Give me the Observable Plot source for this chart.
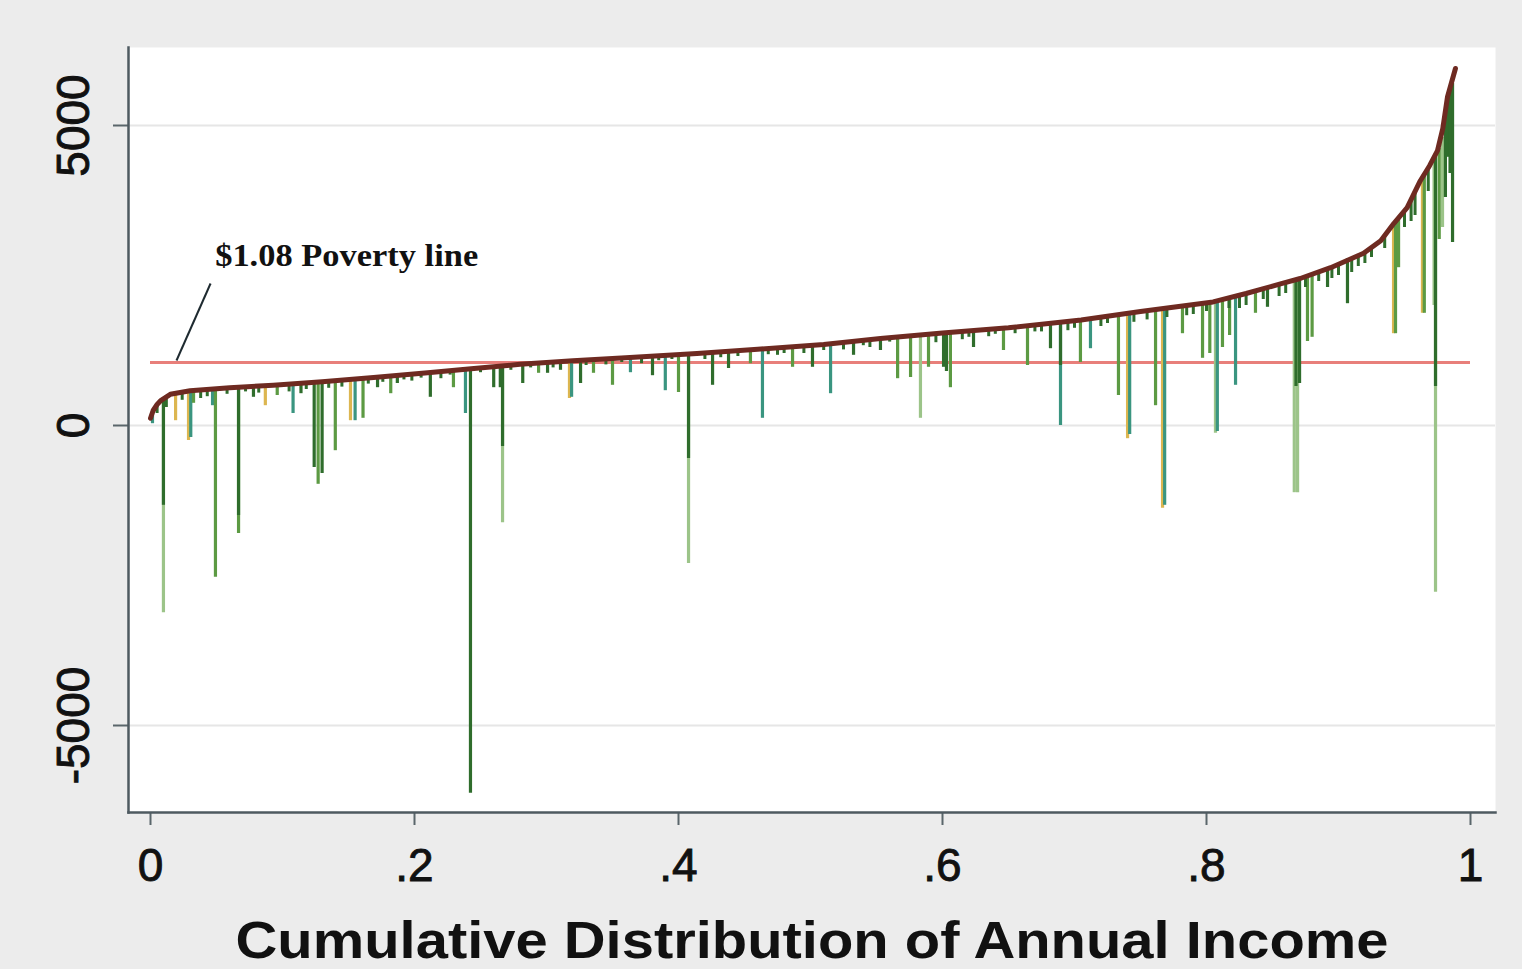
<!DOCTYPE html>
<html>
<head>
<meta charset="utf-8">
<script src="https://cdn.jsdelivr.net/npm/d3@7"></script>
<script src="https://cdn.jsdelivr.net/npm/@observablehq/plot@0.6"></script>
<style>
  html, body { margin: 0; padding: 0; background: #ececec; }
  #chart { width: 1522px; height: 969px; }
</style>
</head>
<body>
<div id="chart"></div>
<script>
// ---- Data ----
const xTicks = [0, 0.2, 0.4, 0.6, 0.8, 1];
const yTicks = [-5000, 0, 5000];
const xTitle = "Cumulative Distribution of Annual Income";
const povertyLine = 1050;           // value of the $1.08 poverty line
const povertySpan = [0, 1];         // cumulative share range covered by the line
const annotation = [{p: 0.049, v: 2830, text: "$1.08 Poverty line"}];
const pointer = [{p1: 0.0197, v1: 1083, p2: 0.0455, v2: 2367}];

// income curve: [cumulative share, annual income]
const incomeCurve = [
  [0, 120], [0.002, 250], [0.005, 350], [0.008, 420], [0.015, 520], [0.03, 580], [0.06, 630],
  [0.093, 670], [0.13, 730], [0.169, 800], [0.21, 880], [0.245, 950], [0.28, 1020],
  [0.32, 1080], [0.36, 1130], [0.414, 1200], [0.46, 1270], [0.51, 1350], [0.553, 1450],
  [0.6, 1540], [0.65, 1630], [0.705, 1760], [0.75, 1900], [0.805, 2060], [0.83, 2200],
  [0.856, 2360], [0.871, 2450], [0.894, 2630], [0.919, 2870], [0.932, 3080], [0.942, 3370],
  [0.952, 3630], [0.962, 4080], [0.969, 4330], [0.975, 4580], [0.979, 4950], [0.9826, 5480], [0.9886, 5950]
];

// spikes: [cumulative share, top value, bottom value, tone]
const spikes = [
  [0.0098, 440, -3120, "light"], [0.2667, 1000, -1620, "light"], [0.4076, 1195, -2300, "light"],
  [0.5833, 1500, 120, "light"], [0.8068, 2060, -130, "light"], [0.8665, 2420, -1120, "light"],
  [0.869, 2440, -1120, "light"], [0.9735, 4500, -2780, "light"], [0.9788, 4800, 3300, "light"],
  [0.9724, 4450, 2000, "light"],

  [0.019, 530, 80, "gold"], [0.0288, 575, -250, "gold"], [0.087, 660, 330, "gold"],
  [0.1515, 765, 80, "gold"], [0.3174, 1075, 450, "gold"], [0.7402, 1860, -220, "gold"],
  [0.7667, 1910, -1380, "gold"], [0.9417, 3370, 1530, "gold"], [0.9636, 4150, 1870, "gold"],

  [0.0015, 230, 30, "teal"], [0.0305, 580, -200, "teal"], [0.047, 610, 330, "teal"],
  [0.108, 690, 200, "teal"], [0.155, 770, 80, "teal"], [0.2386, 935, 200, "teal"],
  [0.319, 1078, 470, "teal"], [0.3636, 1135, 880, "teal"], [0.39, 1175, 580, "teal"],
  [0.4636, 1270, 120, "teal"], [0.5152, 1360, 530, "teal"], [0.6894, 1710, 0, "teal"],
  [0.7121, 1770, 1280, "teal"], [0.7418, 1862, -150, "teal"], [0.7683, 1912, -1330, "teal"],
  [0.822, 2130, 670, "teal"], [0.8082, 2065, -100, "teal"],

  [0.0492, 615, -2530, "mid"], [0.0667, 640, -1800, "mid"], [0.0326, 585, 370, "mid"],
  [0.096, 675, 500, "mid"], [0.127, 720, -980, "mid"], [0.14, 745, -420, "mid"],
  [0.161, 780, 120, "mid"], [0.182, 820, 530, "mid"], [0.2295, 920, 630, "mid"],
  [0.294, 1040, 870, "mid"], [0.3356, 1100, 870, "mid"], [0.35, 1120, 670, "mid"],
  [0.4, 1185, 550, "mid"], [0.4545, 1260, 1030, "mid"], [0.4864, 1310, 970, "mid"],
  [0.566, 1470, 780, "mid"], [0.5758, 1490, 800, "mid"], [0.5894, 1515, 970, "mid"],
  [0.606, 1550, 630, "mid"], [0.6462, 1620, 1250, "mid"], [0.6644, 1650, 1000, "mid"],
  [0.7045, 1760, 1050, "mid"], [0.7333, 1840, 500, "mid"], [0.7614, 1900, 330, "mid"],
  [0.7818, 1950, 1530, "mid"], [0.797, 2020, 1120, "mid"], [0.8121, 2080, 1300, "mid"],
  [0.8371, 2220, 1870, "mid"], [0.88, 2520, 1470, "mid"], [0.9432, 3400, 1530, "mid"],
  [0.9455, 3450, 2630, "mid"], [0.965, 4200, 1870, "mid"], [0.8765, 2490, 1400, "mid"],
  [0.8025, 2040, 1200, "mid"], [0.8175, 2100, 1500, "mid"], [0.9763, 4620, 3100, "mid"],

  [0.0098, 440, -1330, "dark"], [0.0667, 640, -1500, "dark"], [0.078, 650, 470, "dark"],
  [0.114, 700, 530, "dark"], [0.124, 715, -700, "dark"], [0.13, 725, -800, "dark"],
  [0.172, 800, 630, "dark"], [0.187, 830, 700, "dark"], [0.212, 880, 470, "dark"],
  [0.2424, 945, -6130, "dark"], [0.26, 990, 630, "dark"], [0.265, 1000, 630, "dark"],
  [0.2667, 1000, -350, "dark"], [0.282, 1020, 700, "dark"], [0.3008, 1050, 870, "dark"],
  [0.3106, 1065, 920, "dark"], [0.3258, 1090, 700, "dark"], [0.3803, 1160, 830, "dark"],
  [0.4076, 1195, -550, "dark"], [0.4258, 1215, 670, "dark"], [0.4379, 1235, 950, "dark"],
  [0.5015, 1335, 970, "dark"], [0.5326, 1400, 1170, "dark"], [0.553, 1450, 1250, "dark"],
  [0.6008, 1540, 970, "dark"], [0.603, 1545, 900, "dark"], [0.6235, 1580, 1300, "dark"],
  [0.6818, 1690, 1280, "dark"], [0.6894, 1710, 1000, "dark"], [0.8462, 2290, 1970, "dark"],
  [0.8678, 2430, 650, "dark"], [0.8705, 2450, 700, "dark"], [0.8917, 2600, 2300, "dark"],
  [0.9068, 2780, 2030, "dark"], [0.9735, 4500, 650, "dark"], [0.9826, 5480, 4470, "dark"],
  [0.9864, 5700, 3050, "dark"], [0.981, 5200, 3800, "dark"], [0.9845, 5600, 4200, "dark"]
];

// short spikes hugging the curve: [cumulative share, top value, bottom value]
const hairs = [
  [0.005, 350, 200], [0.012, 480, 300], [0.024, 560, 420], [0.038, 595, 450], [0.043, 605, 480],
  [0.058, 628, 520], [0.072, 650, 560], [0.082, 655, 540], [0.105, 685, 560], [0.118, 705, 600],
  [0.135, 740, 620], [0.145, 755, 640], [0.165, 790, 690], [0.176, 805, 720], [0.192, 845, 760],
  [0.198, 860, 740], [0.205, 870, 790], [0.22, 900, 780], [0.227, 915, 840], [0.25, 960, 880],
  [0.273, 1010, 920], [0.288, 1030, 960], [0.305, 1060, 960], [0.33, 1095, 1000], [0.345, 1115, 1010],
  [0.357, 1125, 1050], [0.372, 1150, 1030], [0.385, 1165, 1080], [0.395, 1180, 1100], [0.42, 1205, 1100],
  [0.432, 1225, 1130], [0.445, 1245, 1150], [0.468, 1285, 1180], [0.475, 1295, 1170], [0.48, 1300, 1200],
  [0.495, 1325, 1200], [0.51, 1350, 1250], [0.525, 1385, 1260], [0.54, 1420, 1330], [0.545, 1430, 1300],
  [0.56, 1460, 1390], [0.595, 1530, 1380], [0.615, 1570, 1430], [0.62, 1575, 1470], [0.635, 1600, 1480],
  [0.64, 1610, 1520], [0.655, 1630, 1530], [0.67, 1660, 1560], [0.675, 1680, 1560], [0.695, 1730, 1580],
  [0.70, 1745, 1620], [0.72, 1790, 1650], [0.725, 1810, 1700], [0.745, 1880, 1720], [0.755, 1900, 1760],
  [0.77, 1925, 1800], [0.785, 1970, 1830], [0.79, 1990, 1850], [0.80, 2040, 1900], [0.817, 2110, 1950],
  [0.825, 2150, 1950], [0.83, 2180, 2000], [0.843, 2270, 2100], [0.855, 2350, 2150], [0.86, 2385, 2200],
  [0.875, 2480, 2300], [0.885, 2560, 2400], [0.895, 2640, 2450], [0.9, 2680, 2500], [0.91, 2760, 2550],
  [0.915, 2830, 2650], [0.92, 2890, 2700], [0.925, 2960, 2800], [0.935, 3150, 2950], [0.95, 3580, 3300],
  [0.955, 3750, 3400], [0.958, 3900, 3500], [0.968, 4250, 3900]
];

const toneOrder = ["light", "gold", "teal", "mid", "dark"];
const toneColor = {light: "#9cc489", gold: "#dcb650", teal: "#3a9580", mid: "#5c9a43", dark: "#2f6d2c"};

// ---- Build chart ----
const curveRows = incomeCurve.map(([p, v]) => ({p, v}));
const spikeRows = spikes.map(([p, top, low, tone]) => ({p, top, low, tone}));
const hairRows = hairs.map(([p, top, low]) => ({p, top, low}));

const spikeMarks = toneOrder.map(t =>
  Plot.ruleX(spikeRows.filter(d => d.tone === t), {
    x: "p", y1: "top", y2: "low", stroke: toneColor[t], strokeWidth: 3.2
  })
);

const fmtX = d => d === 0 ? "0" : d === 1 ? "1" : String(d).slice(1);

const chart = Plot.plot({
  width: 1522,
  height: 969,
  marginLeft: 128,
  marginRight: 27,
  marginTop: 47,
  marginBottom: 157,
  style: {background: "transparent", fontFamily: "'Liberation Sans', Arial, sans-serif", color: "#111", overflow: "visible"},
  x: {domain: [-0.01667, 1.01894], axis: null},
  y: {domain: [-6450, 6300], axis: null},
  marks: [
    Plot.frame({fill: "white", stroke: "none"}),
    Plot.gridY(yTicks, {stroke: "#e6e6e6", strokeOpacity: 1, strokeWidth: 2}),
    Plot.ruleY([povertyLine], {x1: povertySpan[0], x2: povertySpan[1], stroke: "#e87f7a", strokeWidth: 3}),
    ...spikeMarks,
    Plot.ruleX(hairRows, {x: "p", y1: "top", y2: "low", stroke: toneColor.dark, strokeWidth: 3}),
    Plot.line(curveRows, {x: "p", y: "v", stroke: "#6e2a21", strokeWidth: 5, strokeLinejoin: "round"}),
    Plot.link(pointer, {x1: "p1", y1: "v1", x2: "p2", y2: "v2", stroke: "#1e2a30", strokeWidth: 2}),
    Plot.text(annotation, {
      x: "p", y: "v", text: "text", textAnchor: "start",
      fontFamily: "'Liberation Serif', 'DejaVu Serif', serif", fontWeight: "bold", fontSize: 31, fill: "#111"
    }),
    Plot.axisY(yTicks, {
      anchor: "left", tickSize: 15, tickPadding: 25, tickRotate: -90, fontSize: 46,
      tickFormat: d => String(d), stroke: "#5a666b", strokeWidth: 2, label: null
    }),
    Plot.axisX(xTicks, {
      anchor: "bottom", tickSize: 13, tickPadding: 23, fontSize: 46,
      tickFormat: fmtX, stroke: "#5a666b", strokeWidth: 2, label: null
    }),
    Plot.frame({anchor: "left", stroke: "#4e5a60", strokeWidth: 2.5}),
    Plot.frame({anchor: "bottom", stroke: "#4e5a60", strokeWidth: 2.5}),
    Plot.text([xTitle], {
      text: d => d, frameAnchor: "bottom", dy: 145,
      fontSize: 52, fontWeight: "bold", fill: "#111"
    })
  ]
});

// stretch the wide labels to the widths measured in the reference; thicken tick labels a little
const tickLabels = new Set([...xTicks.map(fmtX), ...yTicks.map(String)]);
chart.querySelectorAll("text").forEach(t => {
  if (t.textContent === xTitle) { t.setAttribute("textLength", 1153); t.setAttribute("lengthAdjust", "spacingAndGlyphs"); }
  if (t.textContent === annotation[0].text) { t.setAttribute("textLength", 263); t.setAttribute("lengthAdjust", "spacingAndGlyphs"); }
  if (tickLabels.has(t.textContent)) { t.setAttribute("stroke", "#111"); t.setAttribute("stroke-width", "0.9"); }
});

document.getElementById("chart").appendChild(chart);
</script>
</body>
</html>
